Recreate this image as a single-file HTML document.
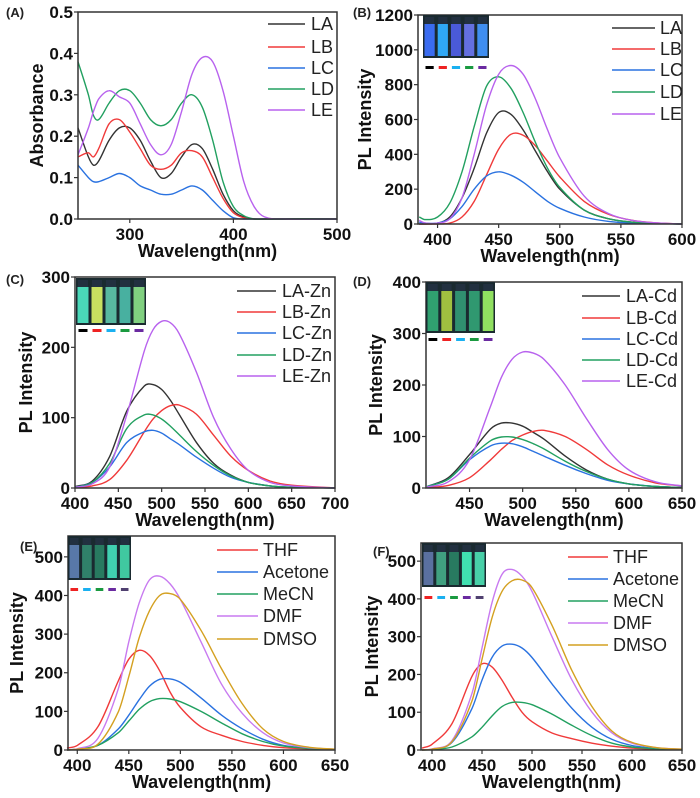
<!DOCTYPE html>
<html><head><meta charset="utf-8"><style>
html,body{margin:0;padding:0;background:#fff;}
svg{display:block;font-family:"Liberation Sans",Arial,sans-serif;}
</style></head><body>
<svg id="fig" width="700" height="798" viewBox="0 0 700 798" xmlns="http://www.w3.org/2000/svg"></svg>
<script>
// ---- Panel A data ----
const aX=[250,260,265,270,280,290,300,310,320,330,340,350,360,370,380,390,400,410,420,430,450,500];
const aLA=[0.22,0.15,0.13,0.14,0.19,0.22,0.22,0.19,0.14,0.10,0.11,0.15,0.18,0.17,0.12,0.06,0.02,0.005,0,0,0,0];
const aLB=[0.15,0.16,0.15,0.17,0.23,0.24,0.21,0.17,0.13,0.12,0.13,0.16,0.165,0.15,0.10,0.05,0.015,0.003,0,0,0,0];
const aLC=[0.13,0.10,0.09,0.09,0.10,0.11,0.10,0.08,0.07,0.06,0.06,0.07,0.08,0.07,0.045,0.02,0.003,0,0,0,0,0];
const aLD=[0.38,0.30,0.25,0.24,0.28,0.31,0.31,0.28,0.24,0.225,0.24,0.28,0.30,0.27,0.19,0.09,0.03,0.008,0,0,0,0];
const aLE=[0.155,0.22,0.26,0.29,0.31,0.295,0.28,0.23,0.18,0.155,0.18,0.26,0.35,0.39,0.38,0.31,0.20,0.09,0.03,0.005,0,0];
// ---- Panel B data ----
const bX=[385,390,400,410,420,430,440,450,460,470,480,490,500,520,540,560,580,600];
const bLA=[0,0,5,40,150,320,520,640,630,540,420,300,200,80,30,10,3,0];
const bLB=[0,0,0,5,40,130,280,430,515,510,450,360,270,130,55,20,6,0];
const bLC=[10,5,5,30,100,200,275,300,280,240,185,130,90,40,15,5,2,0];
const bLD=[40,25,40,120,300,560,790,845,780,640,470,320,210,80,30,10,3,0];
const bLE=[20,5,5,30,150,400,680,860,910,860,720,540,380,160,60,20,6,0];
// ---- Panel C data ----
const cX=[400,420,440,460,480,490,500,510,520,540,560,580,600,625,650,700];
const cLA=[2,10,45,110,145,147,140,125,105,65,35,18,8,3,1,0];
const cLB=[1,3,12,40,80,98,110,117,118,105,75,45,25,10,4,0];
const cLC=[1,8,30,65,80,82,78,70,62,44,28,15,8,3,1,0];
const cLD=[1,8,35,85,104,104,98,88,76,52,32,17,8,3,1,0];
const cLE=[1,6,30,105,195,225,237,235,220,165,100,55,25,8,3,0];
// ---- Panel D data ----
const dX=[410,430,450,470,480,490,500,510,520,540,560,580,600,625,650];
const dLA=[3,20,65,115,126,126,120,108,95,62,35,17,8,3,1];
const dLB=[1,5,20,55,75,92,103,110,112,100,75,45,25,10,4];
const dLC=[3,17,55,82,87,86,80,71,62,44,28,15,8,3,1];
const dLD=[3,17,58,92,99,99,94,86,76,52,32,17,8,3,1];
const dLE=[2,12,55,160,215,250,264,262,250,200,135,75,35,12,4];
// ---- Panel E data ----
const eX=[390,400,420,440,450,460,470,480,490,500,520,540,560,580,600,625,650];
const eTHF=[5,12,60,180,235,258,245,205,150,110,60,38,22,12,6,3,1];
const eAce=[0,2,12,55,90,130,165,183,184,175,135,90,55,28,12,5,2];
const eMeCN=[0,2,12,45,75,105,125,133,132,125,100,70,42,22,10,4,1];
const eDMF=[0,3,30,160,280,380,440,450,430,390,280,170,95,45,18,6,2];
const eDMSO=[0,2,15,100,190,290,360,400,405,390,310,210,120,55,22,7,2];
// ---- Panel F data ----
const fX=[390,400,420,440,450,460,470,480,490,500,520,540,560,580,600,625,650];
const fTHF=[5,15,70,195,228,220,185,140,100,75,45,30,18,10,5,2,1];
const fAce=[0,2,20,110,185,245,275,280,270,245,175,110,60,28,12,4,1];
const fMeCN=[0,1,8,35,60,90,115,126,126,120,95,65,38,18,8,3,1];
const fDMF=[0,3,25,150,270,390,465,478,460,420,300,185,100,45,18,6,2];
const fDMSO=[0,2,22,130,240,350,420,448,450,430,330,210,115,50,20,6,2];
// ---- tick labels ----
const aXT=[300,400,500], aYT=[0,0.1,0.2,0.3,0.4,0.5];
const bXT=[400,450,500,550,600], bYT=[0,200,400,600,800,1000,1200];
const cXT=[400,450,500,550,600,650,700], cYT=[0,100,200,300];
const dXT=[450,500,550,600,650], dYT=[0,100,200,300,400];
const eXT=[400,450,500,550,600,650], eYT=[0,100,200,300,400,500];
const fXT=[400,450,500,550,600,650], fYT=[0,100,200,300,400,500];

const C5=['#333333','#f03a3a','#2a72e0','#22a060','#b862ee'];
const S5=['#f03a3a','#2a72e0','#22a060','#c87af0','#d4a020'];
const NS='http://www.w3.org/2000/svg';
const svg=document.getElementById('fig');
function mk(tag,attrs,parent){const e=document.createElementNS(NS,tag);for(const k in attrs)e.setAttribute(k,attrs[k]);(parent||svg).appendChild(e);return e;}
function smooth(pts){
 const n=pts.length,m=[];
 for(let i=0;i<n;i++){const a=pts[Math.max(0,i-1)],b=pts[Math.min(n-1,i+1)];m.push((b[1]-a[1])/(b[0]-a[0]));}
 let d='M'+pts[0][0].toFixed(1)+','+pts[0][1].toFixed(1);
 for(let i=0;i<n-1;i++){const p1=pts[i],p2=pts[i+1],h=p2[0]-p1[0];
  d+=' C'+(p1[0]+h/3).toFixed(1)+','+(p1[1]+m[i]*h/3).toFixed(1)+' '+(p2[0]-h/3).toFixed(1)+','+(p2[1]-m[i+1]*h/3).toFixed(1)+' '+p2[0].toFixed(1)+','+p2[1].toFixed(1);}
 return d;}

const panels=[
 {id:'a',tag:'(A)',tagX:6,tagY:17,L:78,R:337,T:12,B:219,x0:250,x1:500,y0:0,y1:0.5,xt:aXT,yt:aYT,fmt:v=>v.toFixed(1),
  xs:aX,series:[aLA,aLB,aLC,aLD,aLE],names:['LA','LB','LC','LD','LE'],cols:C5,ylab:'Absorbance',ylx:38,
  lg:{x1:268,x2:305,tx:311,ys:[24,47,68,89,110]},inset:null},
 {id:'b',tag:'(B)',tagX:353,tagY:17,L:418,R:682,T:15,B:224,x0:384,x1:600,y0:0,y1:1200,xt:bXT,yt:bYT,fmt:v=>String(v),
  xs:bX,series:[bLA,bLB,bLC,bLD,bLE],names:['LA','LB','LC','LD','LE'],cols:C5,ylab:'PL Intensity',ylx:366,
  lg:{x1:612,x2:655,tx:660,ys:[28,49,70,92,114]},inset:{x:423,y:15,w:66,h:43,by:66,cols:['#3a6cf0','#2fa8f5','#4a5ad8','#6470e0','#3f8ef0'],bars:['#000','#e22','#1ab0f0','#1a9a40','#6a2aa0']}},
 {id:'c',tag:'(C)',tagX:6,tagY:284,L:75,R:335,T:277,B:488,x0:400,x1:700,y0:0,y1:300,xt:cXT,yt:cYT,fmt:v=>String(v),
  xs:cX,series:[cLA,cLB,cLC,cLD,cLE],names:['LA-Zn','LB-Zn','LC-Zn','LD-Zn','LE-Zn'],cols:C5,ylab:'PL Intensity',ylx:27,
  lg:{x1:237,x2:276,tx:282,ys:[291,312,333,355,376]},inset:{x:76,y:278,w:70,h:47,by:329,cols:['#4ad8b8','#c8e060','#58b8a0','#48b0a0','#80d080'],bars:['#000','#e22','#1ab0f0','#1a9a40','#6a2aa0']}},
 {id:'d',tag:'(D)',tagX:353,tagY:286,L:426,R:682,T:282,B:488,x0:409,x1:650,y0:0,y1:400,xt:dXT,yt:dYT,fmt:v=>String(v),
  xs:dX,series:[dLA,dLB,dLC,dLD,dLE],names:['LA-Cd','LB-Cd','LC-Cd','LD-Cd','LE-Cd'],cols:C5,ylab:'PL Intensity',ylx:377,
  lg:{x1:582,x2:620,tx:626,ys:[296,318,339,360,381]},inset:{x:426,y:282,w:69,h:51,by:338,cols:['#30a070','#a0c040','#309070','#309870','#90e060'],bars:['#000','#e22','#1ab0f0','#1a9a40','#6a2aa0']}},
 {id:'e',tag:'(E)',tagX:20,tagY:551,L:68,R:335,T:536,B:750,x0:391,x1:650,y0:0,y1:554,xt:eXT,yt:eYT,fmt:v=>String(v),
  xs:eX,series:[eTHF,eAce,eMeCN,eDMF,eDMSO],names:['THF','Acetone','MeCN','DMF','DMSO'],cols:S5,ylab:'PL Intensity',ylx:18,
  lg:{x1:217,x2:258,tx:263,ys:[550,572,594,616,639]},inset:{x:68,y:536,w:63,h:44,by:588,cols:['#5878a8','#30806a','#287a60','#40d0b0','#40c8a0'],bars:['#e22','#1ab0f0','#1a9a40','#6a2aa0','#504070']}},
 {id:'f',tag:'(F)',tagX:373,tagY:556,L:421,R:682,T:543,B:750,x0:389,x1:650,y0:0,y1:548,xt:fXT,yt:fYT,fmt:v=>String(v),
  xs:fX,series:[fTHF,fAce,fMeCN,fDMF,fDMSO],names:['THF','Acetone','MeCN','DMF','DMSO'],cols:S5,ylab:'PL Intensity',ylx:373,
  lg:{x1:568,x2:608,tx:613,ys:[557,579,601,623,645]},inset:{x:422,y:543,w:64,h:44,by:596,cols:['#5a70a0','#40a080','#287a60','#40e0b0','#48d0a8'],bars:['#e22','#1ab0f0','#1a9a40','#6a2aa0','#504070']}}
];

panels.forEach(p=>{
 const g=mk('g',{});
 
 
 const sx=v=>p.L+(v-p.x0)/(p.x1-p.x0)*(p.R-p.L);
 const sy=v=>p.B-(v-p.y0)/(p.y1-p.y0)*(p.B-p.T);
 const tg=mk('text',{x:p.tagX,y:p.tagY,'font-size':13,'font-weight':'bold',fill:'#222'},g);tg.textContent=p.tag;
 
 
 p.series.forEach((vals,i)=>{
  const pts=p.xs.map((x,j)=>[sx(x),sy(vals[j])]);
  const path=mk('path',{d:smooth(pts),fill:'none',stroke:p.cols[i],'stroke-width':1.4},g);
  
  
 });
 const fr=mk('rect',{x:p.L,y:p.T,width:p.R-p.L,height:p.B-p.T,fill:'none',stroke:'#333','stroke-width':1.5},g);
 
 
 p.xt.forEach(v=>{const x=sx(v);
  mk('line',{x1:x,x2:x,y1:p.B,y2:p.B+4,stroke:'#333','stroke-width':1.2},g);
  const t=mk('text',{x:x,y:p.B+21,'font-size':17,'font-weight':'bold','text-anchor':'middle',fill:'#111'},g);t.textContent=String(v);
  
  });
 p.yt.forEach(v=>{const y=sy(v);
  mk('line',{x1:p.L-4,x2:p.L,y1:y,y2:y,stroke:'#333','stroke-width':1.2},g);
  const t=mk('text',{x:p.L-5,y:y+6,'font-size':17,'font-weight':'bold','text-anchor':'end',fill:'#111'},g);t.textContent=p.fmt(v);
  
  });
 const xl=mk('text',{x:(p.L+p.R)/2,y:p.B+38,'font-size':18,'font-weight':'bold','text-anchor':'middle',fill:'#111'},g);xl.textContent='Wavelength(nm)';
 
 
 const yc=(p.T+p.B)/2;
 const yl=mk('text',{x:p.ylx,y:yc,'font-size':18,'font-weight':'bold','text-anchor':'middle',fill:'#111',transform:'rotate(-90 '+p.ylx+' '+yc+')','dominant-baseline':'middle'},g);yl.textContent=p.ylab;
 
 
 p.names.forEach((n,i)=>{const y=p.lg.ys[i];
  const lg=mk('g',{},g);
  
  
  mk('line',{x1:p.lg.x1,x2:p.lg.x2,y1:y,y2:y,stroke:p.cols[i],'stroke-width':1.6},lg);
  const t=mk('text',{x:p.lg.tx,y:y+6,'font-size':18,fill:'#222'},lg);t.textContent=n;});
 if(p.inset){const s=p.inset;
  const ig=mk('g',{},g);
  
  
  mk('rect',{x:s.x,y:s.y,width:s.w,height:s.h,fill:'#1a2a30'},ig);
  const vw=s.w/5;
  s.cols.forEach((c,i)=>{
   mk('rect',{x:s.x+i*vw+1.5,y:s.y+9,width:vw-3,height:s.h-11,fill:c},ig);
   mk('rect',{x:s.x+i*vw+2,y:s.y+2,width:vw-4,height:7,fill:'#223040'},ig);
   mk('rect',{x:s.x+i*vw+2.5,y:s.by,width:vw-5,height:3,fill:s.bars[i]},ig);
  });}
});
</script>
</body></html>
